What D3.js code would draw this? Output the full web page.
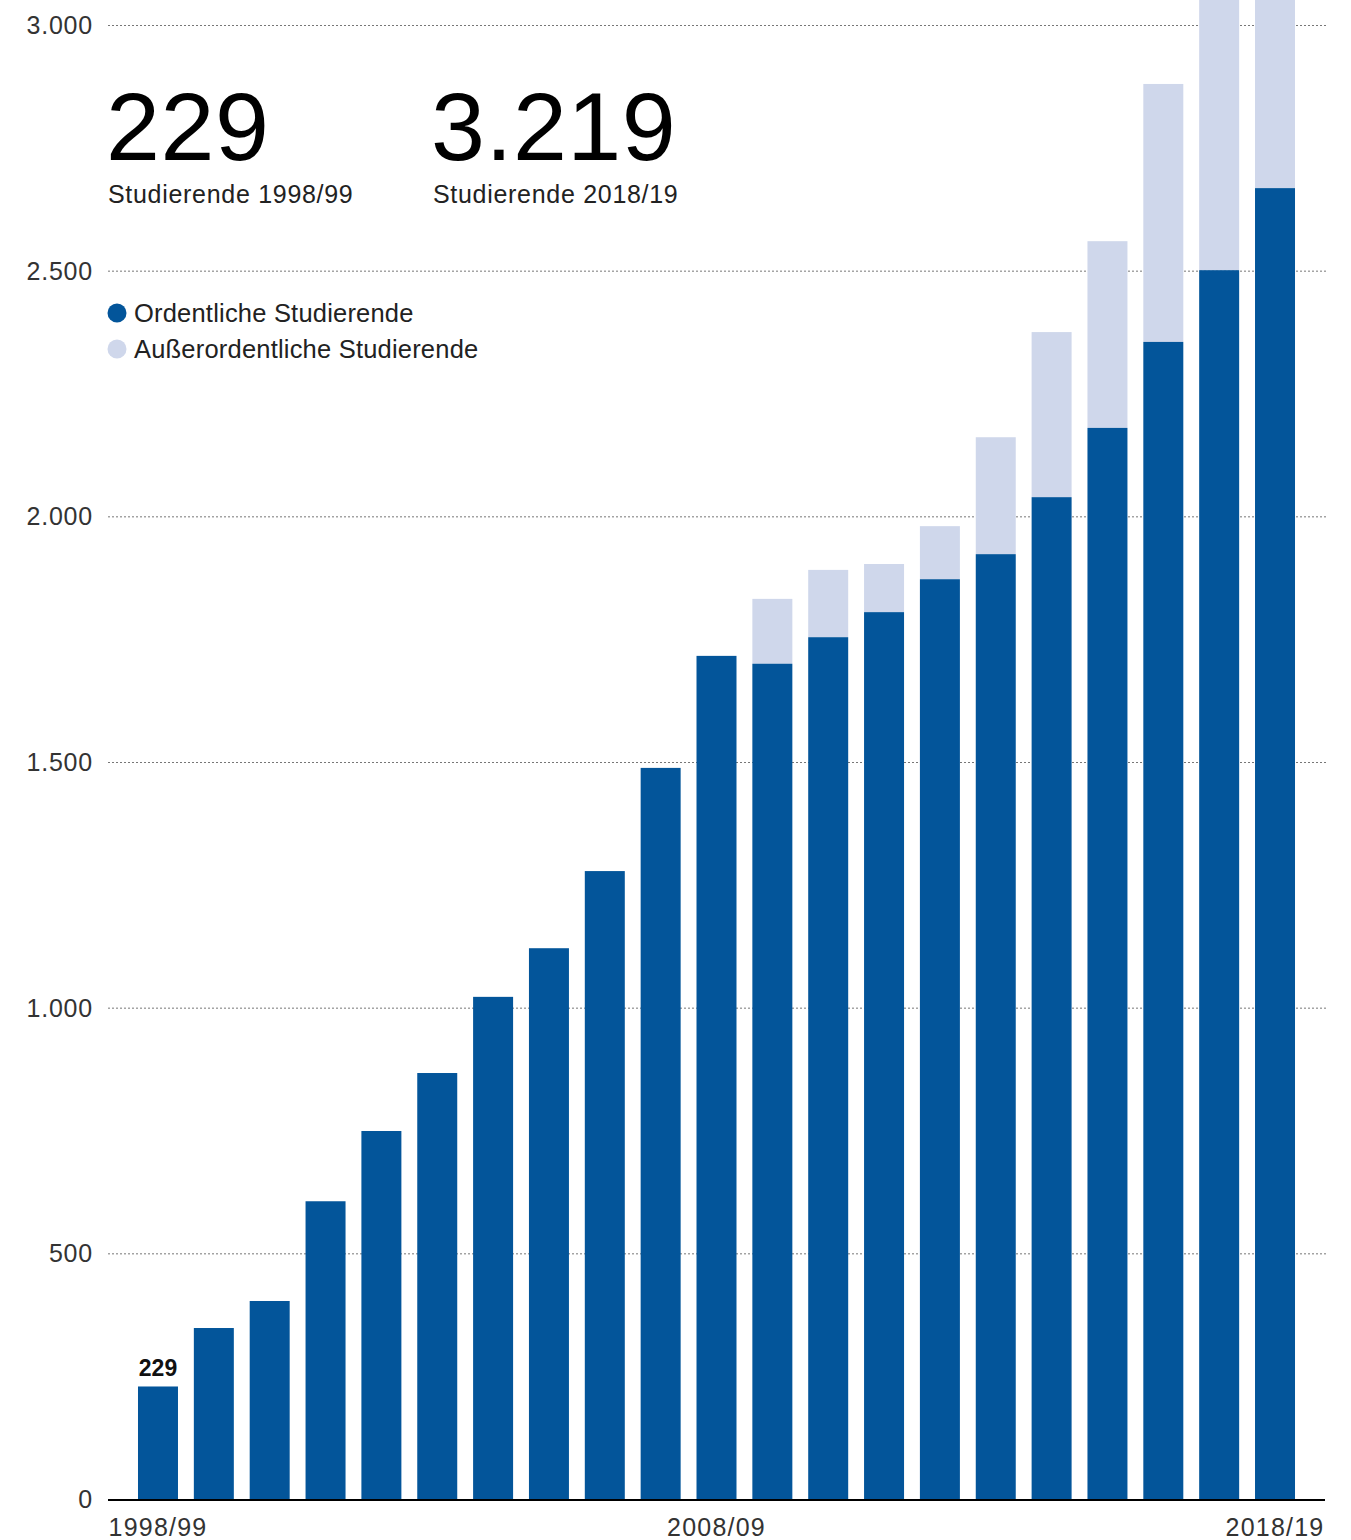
<!DOCTYPE html>
<html>
<head>
<meta charset="utf-8">
<script src="https://cdn.jsdelivr.net/npm/d3@7"></script>
<style>
  html, body { margin: 0; padding: 0; background: #fff; }
  svg { display: block; font-family: "Liberation Sans", Arial, sans-serif; }
</style>
</head>
<body>
<svg id="chart" width="1351" height="1540"></svg>
<script>
// semesters 1998/99 .. 2018/19
const years = ["1998/99","1999/00","2000/01","2001/02","2002/03","2003/04","2004/05",
  "2005/06","2006/07","2007/08","2008/09","2009/10","2010/11","2011/12","2012/13",
  "2013/14","2014/15","2015/16","2016/17","2017/18","2018/19"];
// ordentliche Studierende
const ordentlich = [229, 348, 403, 606, 749, 867, 1022, 1121, 1278, 1488, 1716,
  1700, 1754, 1805, 1872, 1923, 2039, 2180, 2355, 2501, 2668];
// außerordentliche Studierende
const ausserordentlich = [0, 0, 0, 0, 0, 0, 0, 0, 0, 0, 0,
  132, 137, 98, 108, 238, 336, 380, 525, 580, 551];
const yTicks = [0, 500, 1000, 1500, 2000, 2500, 3000];
const xLabels = ["1998/99", "2008/09", "2018/19"];

const dark = "#03559a", light = "#cfd7eb";
const svg = d3.select("#chart");

const x = d3.scaleBand().domain(years).range([108, 1325])
  .paddingInner(0.284).paddingOuter(0.537);
const y = d3.scaleLinear().domain([0, 3000]).range([1499, 25]);
const fmt = d3.formatLocale({decimal: ",", thousands: ".", grouping: [3]}).format(",d");

// grid
svg.append("g").selectAll("line").data(yTicks.filter(d => d > 0)).enter().append("line")
  .attr("x1", 108).attr("x2", 1328)
  .attr("y1", d => y(d) + 0.5).attr("y2", d => y(d) + 0.5)
  .attr("stroke", "#777").attr("stroke-width", 1).attr("stroke-dasharray", "2,2");

svg.append("g").selectAll("text").data(yTicks).enter().append("text")
  .attr("x", 93).attr("y", d => y(d) + 9)
  .attr("text-anchor", "end").attr("font-size", 25).attr("letter-spacing", 0.8)
  .attr("fill", "#333")
  .text(d => fmt(d));

// bars
const data = years.map((k, i) => ({k, o: ordentlich[i], a: ausserordentlich[i]}));
svg.append("g").selectAll("rect").data(data.filter(d => d.a > 0)).enter().append("rect")
  .attr("x", d => x(d.k)).attr("width", x.bandwidth())
  .attr("y", d => y(d.o + d.a)).attr("height", d => y(d.o) - y(d.o + d.a))
  .attr("fill", light);
svg.append("g").selectAll("rect").data(data).enter().append("rect")
  .attr("x", d => x(d.k)).attr("width", x.bandwidth())
  .attr("y", d => y(d.o)).attr("height", d => y(0) - y(d.o))
  .attr("fill", dark);

// baseline
svg.append("line").attr("x1", 108).attr("x2", 1325)
  .attr("y1", y(0) + 1).attr("y2", y(0) + 1)
  .attr("stroke", "#000").attr("stroke-width", 2);

// x labels
svg.append("g").selectAll("text").data(xLabels).enter().append("text")
  .attr("x", d => x(d) + x.bandwidth() / 2).attr("y", 1536)
  .attr("text-anchor", "middle").attr("font-size", 25).attr("letter-spacing", 1.2)
  .attr("fill", "#333")
  .text(d => d);

// first bar value
svg.append("text").attr("x", x(years[0]) + x.bandwidth() / 2).attr("y", y(ordentlich[0]) - 10)
  .attr("text-anchor", "middle").attr("font-size", 23).attr("font-weight", "bold")
  .attr("fill", "#111").text(fmt(ordentlich[0]));

// headline numbers
const first = ordentlich[0] + ausserordentlich[0];
const last = ordentlich[20] + ausserordentlich[20];
const heads = [
  {x: 106, v: first, label: "Studierende " + years[0]},
  {x: 431, v: last, label: "Studierende " + years[20]}
];
heads.forEach(h => {
  svg.append("text").attr("x", h.x).attr("y", 160).attr("font-size", 97)
    .attr("font-weight", 300).attr("fill", "#000").attr("letter-spacing", 0.5)
    .text(fmt(h.v));
  svg.append("text").attr("x", h.x + 2).attr("y", 203).attr("font-size", 25)
    .attr("letter-spacing", 0.7).attr("fill", "#222").text(h.label);
});

// legend
const legend = [{c: dark, t: "Ordentliche Studierende"}, {c: light, t: "Außerordentliche Studierende"}];
const lg = svg.append("g").selectAll("g").data(legend).enter().append("g")
  .attr("transform", (d, i) => `translate(117, ${313 + i * 36})`);
lg.append("circle").attr("r", 9.5).attr("fill", d => d.c);
lg.append("text").attr("x", 17).attr("y", 9).attr("font-size", 25.5).attr("letter-spacing", 0.2)
  .attr("fill", "#222").text(d => d.t);
</script>
</body>
</html>
